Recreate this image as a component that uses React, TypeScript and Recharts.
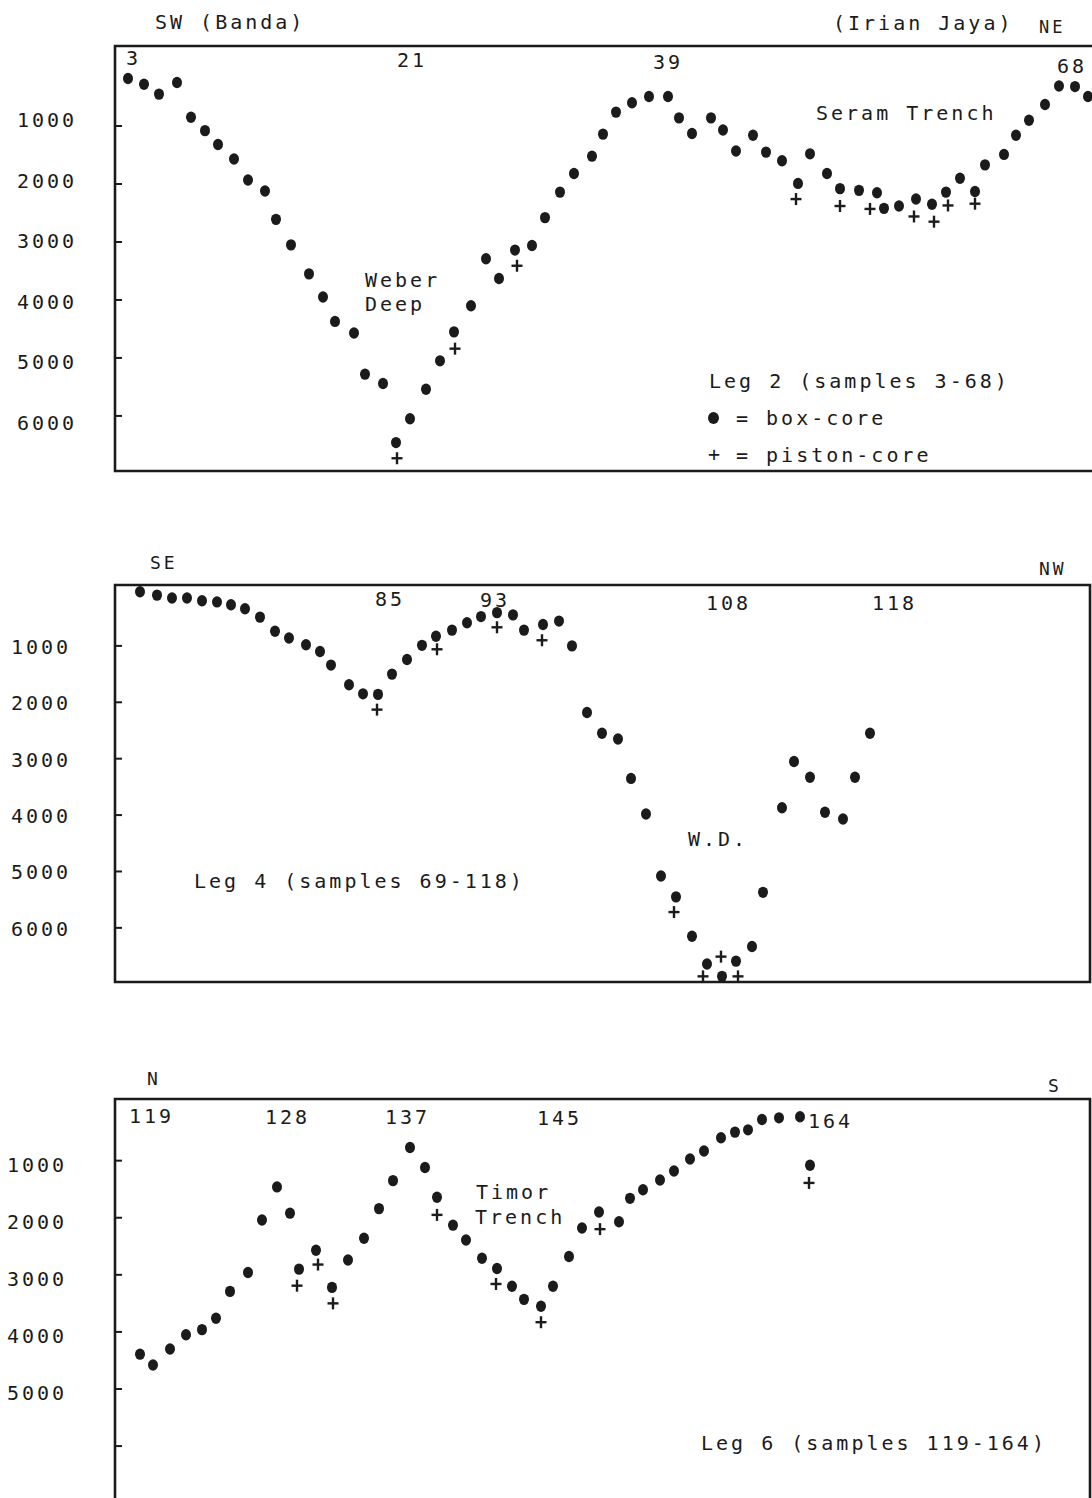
import { ScatterChart, Scatter, XAxis, YAxis, ReferenceArea } from 'recharts'

const ink = '#1b1b1b'
const mono = '"DejaVu Sans Mono", "Liberation Mono", monospace'

// water depth (m) against distance along the track (arbitrary units)
const depthTicks = [1000, 2000, 3000, 4000, 5000, 6000]

// Leg 2, SW (Banda) -> NE (Irian Jaya)
const leg2Box: [number, number][] = [
  [13, 180], [29, 280], [44, 450], [62, 250], [76, 850], [90, 1080], [103, 1320],
  [119, 1570], [133, 1930], [150, 2120], [161, 2610], [176, 3050], [194, 3550],
  [208, 3950], [220, 4370], [239, 4570], [250, 5280], [268, 5440], [281, 6460],
  [295, 6050], [311, 5540], [325, 5050], [339, 4550], [356, 4100], [371, 3290],
  [384, 3630], [400, 3140], [417, 3060], [430, 2580], [445, 2140], [459, 1820],
  [477, 1520], [488, 1140], [501, 760], [517, 600], [534, 490], [553, 490],
  [564, 860], [577, 1130], [596, 860], [608, 1070], [621, 1430], [638, 1160],
  [651, 1450], [667, 1600], [683, 1990], [695, 1480], [712, 1820], [725, 2080],
  [744, 2110], [762, 2150], [769, 2420], [784, 2380], [801, 2260], [817, 2350],
  [831, 2140], [845, 1900], [860, 2130], [870, 1670], [889, 1490], [901, 1160],
  [914, 900], [930, 630], [944, 310], [960, 320], [973, 490],
]
const leg2Piston: [number, number][] = [
  [282, 6730], [340, 4840], [402, 3410], [681, 2260], [725, 2380], [755, 2430],
  [799, 2560], [819, 2650], [833, 2370], [860, 2340],
]

// Leg 4, SE -> NW
const leg4Box: [number, number][] = [
  [25, 40], [42, 100], [57, 150], [72, 150], [87, 200], [102, 220], [116, 270],
  [130, 340], [145, 490], [160, 740], [174, 860], [191, 980], [205, 1100],
  [216, 1340], [234, 1690], [248, 1850], [263, 1860], [277, 1500], [292, 1240],
  [307, 990], [321, 830], [337, 720], [352, 590], [366, 480], [382, 410],
  [398, 450], [409, 720], [428, 620], [444, 560], [457, 1000], [472, 2180],
  [487, 2550], [503, 2650], [516, 3350], [531, 3980], [546, 5080], [561, 5450],
  [577, 6150], [592, 6640], [607, 6860], [621, 6590], [637, 6330], [648, 5370],
  [667, 3870], [679, 3050], [695, 3330], [710, 3950], [728, 4070], [740, 3330],
  [755, 2550],
]
const leg4Piston: [number, number][] = [
  [262, 2130], [322, 1060], [382, 670], [427, 900], [559, 5720], [588, 6860],
  [606, 6510], [623, 6860],
]

// Leg 6, N -> S
const leg6Box: [number, number][] = [
  [25, 4390], [38, 4580], [55, 4300], [71, 4050], [87, 3960], [101, 3760],
  [115, 3290], [133, 2960], [147, 2040], [162, 1460], [175, 1920], [184, 2900],
  [201, 2570], [217, 3220], [233, 2740], [249, 2360], [264, 1840], [278, 1350],
  [295, 770], [310, 1120], [322, 1640], [338, 2130], [351, 2390], [367, 2710],
  [382, 2890], [397, 3200], [409, 3430], [426, 3550], [438, 3200], [454, 2680],
  [467, 2180], [484, 1900], [504, 2070], [515, 1660], [528, 1510], [545, 1340],
  [559, 1180], [575, 970], [589, 830], [606, 600], [620, 500], [633, 460],
  [647, 280], [664, 250], [685, 230], [695, 1080],
]
const leg6Piston: [number, number][] = [
  [182, 3190], [203, 2820], [218, 3500], [322, 1950], [381, 3160], [426, 3830],
  [485, 2200], [694, 1390],
]

const toPts = (rows: [number, number][]) => rows.map(([x, d]) => ({ x, d }))

function BoxCore(props: any) {
  const { cx, cy } = props
  if (cx == null || cy == null) return null
  return <ellipse cx={cx} cy={cy} rx={5} ry={5.7} fill={ink} />
}

function PistonCore(props: any) {
  const { cx, cy } = props
  if (cx == null || cy == null) return null
  return (
    <g stroke={ink} strokeWidth={2.4}>
      <line x1={cx - 5.5} x2={cx + 5.5} y1={cy} y2={cy} />
      <line x1={cx} x2={cx} y1={cy - 6} y2={cy + 6} />
    </g>
  )
}

function DepthTick(props: any) {
  const { x, y, payload, labelX, shift, maxLabel } = props
  const v = payload.value
  return (
    <g>
      <line x1={x} x2={x + 7} y1={y} y2={y} stroke={ink} strokeWidth={2} />
      {v <= maxLabel && (
        <text
          x={labelX}
          y={y + shift(v)}
          textAnchor="start"
          dominantBaseline="central"
          fontFamily={mono}
          fontSize={20}
          letterSpacing={3}
          fill={ink}
        >
          {v}
        </text>
      )}
    </g>
  )
}

function Txt({ x, y, size = 20, children }: { x: number; y: number; size?: number; children: any }) {
  return (
    <span
      style={{
        position: 'absolute',
        left: x,
        top: y - size / 2,
        fontSize: size,
        lineHeight: `${size}px`,
        letterSpacing: 3,
        whiteSpace: 'pre',
        color: ink,
        fontFamily: mono,
      }}
    >
      {children}
    </span>
  )
}

interface PanelProps {
  top: number
  width: number
  height: number
  margin: { top: number; right: number; bottom: number; left: number }
  xMax: number
  yDomain: [number, number]
  box: [number, number][]
  piston: [number, number][]
  labelX: number
  shift: (v: number) => number
  maxLabel: number
}

function Panel({ top, width, height, margin, xMax, yDomain, box, piston, labelX, shift, maxLabel }: PanelProps) {
  return (
    <div style={{ position: 'absolute', left: 0, top }}>
      <ScatterChart width={width} height={height} margin={margin}>
        <XAxis type="number" dataKey="x" domain={[0, xMax]} hide allowDataOverflow />
        <YAxis
          type="number"
          dataKey="d"
          domain={yDomain}
          reversed
          allowDataOverflow
          ticks={depthTicks}
          interval={0}
          width={115}
          axisLine={false}
          tickLine={false}
          tickSize={0}
          tickMargin={0}
          tick={(p: any) => <DepthTick {...p} labelX={labelX} shift={shift} maxLabel={maxLabel} />}
        />
        <ReferenceArea
          x1={0}
          x2={xMax}
          y1={yDomain[0]}
          y2={yDomain[1]}
          fill="none"
          fillOpacity={0}
          stroke={ink}
          strokeWidth={2.6}
          ifOverflow="visible"
        />
        <Scatter data={toPts(box)} shape={BoxCore} isAnimationActive={false} />
        <Scatter data={toPts(piston)} shape={PistonCore} isAnimationActive={false} />
      </ScatterChart>
    </div>
  )
}

export default function App() {
  return (
    <div
      style={{
        position: 'absolute',
        left: 0,
        top: 0,
        width: 1092,
        height: 1498,
        overflow: 'hidden',
        background: '#fff',
      }}
    >
      <Panel
        top={0}
        width={1100}
        height={500}
        margin={{ top: 46, right: 0, bottom: 29, left: 0 }}
        xMax={985}
        yDomain={[-380, 6950]}
        box={leg2Box}
        piston={leg2Piston}
        labelX={17}
        shift={(v) => -6 + ((v - 1000) * 13) / 5000}
        maxLabel={6000}
      />
      <Panel
        top={540}
        width={1092}
        height={460}
        margin={{ top: 45, right: 2, bottom: 18, left: 0 }}
        xMax={975}
        yDomain={[-80, 6960]}
        box={leg4Box}
        piston={leg4Piston}
        labelX={11}
        shift={() => 1}
        maxLabel={6000}
      />
      <Panel
        top={1060}
        width={1092}
        height={490}
        margin={{ top: 39, right: 2, bottom: 20, left: 0 }}
        xMax={975}
        yDomain={[-80, 7470]}
        box={leg6Box}
        piston={leg6Piston}
        labelX={7}
        shift={() => 4}
        maxLabel={5000}
      />

      {/* Leg 2 */}
      <Txt x={155} y={22}>SW (Banda)</Txt>
      <Txt x={833} y={23}>(Irian Jaya)</Txt>
      <Txt x={1039} y={27} size={17}>NE</Txt>
      <Txt x={126} y={58}>3</Txt>
      <Txt x={397} y={60}>21</Txt>
      <Txt x={653} y={62}>39</Txt>
      <Txt x={1057} y={66}>68</Txt>
      <Txt x={365} y={280}>Weber</Txt>
      <Txt x={365} y={304}>Deep</Txt>
      <Txt x={816} y={113}>Seram Trench</Txt>
      <Txt x={709} y={381}>Leg 2 (samples 3-68)</Txt>
      <span
        style={{
          position: 'absolute',
          left: 708,
          top: 412,
          width: 11,
          height: 12,
          borderRadius: '50%',
          background: ink,
        }}
      />
      <Txt x={736} y={418}>= box-core</Txt>
      <Txt x={708} y={454}>+</Txt>
      <Txt x={736} y={455}>= piston-core</Txt>

      {/* Leg 4 */}
      <Txt x={150} y={563} size={18}>SE</Txt>
      <Txt x={1039} y={569} size={18}>NW</Txt>
      <Txt x={375} y={599}>85</Txt>
      <Txt x={480} y={600}>93</Txt>
      <Txt x={706} y={603}>108</Txt>
      <Txt x={872} y={603}>118</Txt>
      <Txt x={688} y={839}>W.D.</Txt>
      <Txt x={194} y={881}>Leg 4 (samples 69-118)</Txt>

      {/* Leg 6 */}
      <Txt x={147} y={1079} size={18}>N</Txt>
      <Txt x={1048} y={1086} size={18}>S</Txt>
      <Txt x={129} y={1116}>119</Txt>
      <Txt x={265} y={1117}>128</Txt>
      <Txt x={385} y={1117}>137</Txt>
      <Txt x={537} y={1118}>145</Txt>
      <Txt x={808} y={1121}>164</Txt>
      <Txt x={476} y={1192}>Timor</Txt>
      <Txt x={475} y={1217}>Trench</Txt>
      <Txt x={701} y={1443}>Leg 6 (samples 119-164)</Txt>
    </div>
  )
}
